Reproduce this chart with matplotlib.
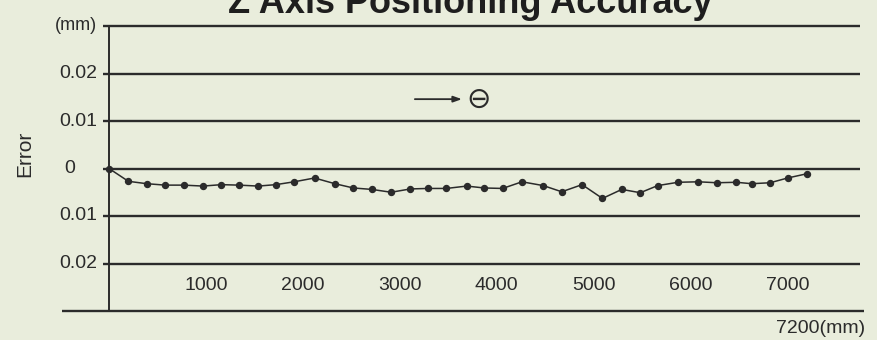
import matplotlib
matplotlib.use("Agg")
import matplotlib.pyplot as plt
from matplotlib import font_manager

# Measured Z-axis positioning error along the travel (mm)
position_mm = [0, 200, 390, 580, 770, 970, 1160, 1340, 1540, 1720,
               1910, 2120, 2330, 2520, 2710, 2910, 3110, 3290, 3480, 3690,
               3870, 4060, 4260, 4480, 4670, 4880, 5090, 5290, 5480, 5660,
               5870, 6080, 6270, 6470, 6630, 6820, 7000, 7200]
error_mm = [0.0, -0.0027, -0.0032, -0.0035, -0.0035, -0.0037, -0.0034, -0.0035,
            -0.0037, -0.0034, -0.0028, -0.0020, -0.0032, -0.0041, -0.0044,
            -0.0050, -0.0043, -0.0042, -0.0042, -0.0037, -0.0041, -0.0042,
            -0.0028, -0.0036, -0.0049, -0.0034, -0.0063, -0.0044, -0.0051,
            -0.0036, -0.0029, -0.0028, -0.0030, -0.0029, -0.0032, -0.0030,
            -0.0020, -0.0011]

y_levels = [0.03, 0.02, 0.01, 0.0, -0.01, -0.02]
y_labels = ["(mm)", "0.02", "0.01", "0", "0.01", "0.02"]
x_ticks = [1000, 2000, 3000, 4000, 5000, 6000, 7000]
x_labels = ["1000", "2000", "3000", "4000", "5000", "6000", "7000"]

title = "Z Axis Positioning Accuracy"
y_title = "Error"
end_label = "7200(mm)"

installed = {f.name for f in font_manager.fontManager.ttflist}
narrow = "Liberation Sans Narrow" if "Liberation Sans Narrow" in installed else "Liberation Sans"

bg = "#e9eddc"
ink = "#2b2b2b"

W, H, DPI = 878, 340, 100
fig = plt.figure(figsize=(W / DPI, H / DPI), dpi=DPI, facecolor=bg)

# Axes frame: x = 0 at pixel 109, 7200 at pixel 807; y spans 0.03 .. -0.03
px_per_mm = (807 - 109) / 7200.0
left_px, right_px = 109, 866
top_px, bottom_px = 26, 311
ax = fig.add_axes([left_px / W, (H - bottom_px) / H,
                   (right_px - left_px) / W, (bottom_px - top_px) / H])
ax.set_facecolor(bg)
ax.set_xlim(0, (right_px - left_px) / px_per_mm)
ax.set_ylim(-0.03, 0.03)
for s in ax.spines.values():
    s.set_visible(False)
ax.set_xticks([])
ax.set_yticks([])

x_stub = -6 / px_per_mm
x_end = (860 - left_px) / px_per_mm

# Horizontal rules with their labels
for yv, lab in zip(y_levels, y_labels):
    ax.plot([x_stub, x_end], [yv, yv], color=ink, lw=1.7, clip_on=False,
            solid_capstyle="butt", zorder=2)
    if lab == "0":
        ax.text((64 - left_px) / px_per_mm, yv, lab, ha="left", va="center",
                fontsize=14, family=narrow, color=ink, clip_on=False)
    else:
        ax.text(-12 / px_per_mm, yv, lab, ha="right", va="center",
                fontsize=14 if lab != "(mm)" else 13,
                family=narrow, color=ink, clip_on=False)

# Bottom rule reaching further left
ax.plot([(62 - left_px) / px_per_mm, (864 - left_px) / px_per_mm], [-0.03, -0.03],
        color=ink, lw=1.7, clip_on=False, solid_capstyle="butt", zorder=2)

# Vertical axis
ax.plot([0, 0], [-0.03, 0.03], color=ink, lw=1.4, clip_on=False, zorder=2)

# X tick labels between the lower rules
for xv, lab in zip(x_ticks, x_labels):
    ax.text(xv, -0.0246, lab, ha="center", va="center", fontsize=14,
            family=narrow, color=ink)

ax.text((865 - left_px) / px_per_mm, -0.0336, end_label, ha="right", va="center",
        fontsize=14, family=narrow, color=ink, clip_on=False)

# Error curve
ax.plot(position_mm, error_mm, color=ink, lw=1.1, marker="o", markersize=4.3,
        markerfacecolor=ink, markeredgecolor=ink, clip_on=False, zorder=3)

# Direction marker
ax.annotate("", xy=(3640, 0.0146), xytext=(3155, 0.0146),
            arrowprops=dict(arrowstyle="-|>,head_length=0.5,head_width=0.18",
                            color=ink, lw=1.3, shrinkA=0, shrinkB=0))
ax.text(3810, 0.0144, "\u2296", ha="center", va="center", fontsize=21,
        family="DejaVu Sans", color=ink)

fig.text(25 / W, 1 - 154 / H, y_title, rotation=90, ha="center", va="center",
         fontsize=15, family=narrow, color=ink)
fig.text(470 / W, 1 - 13 / H, title, ha="center", va="baseline", fontsize=26,
         fontweight="bold", family="Liberation Sans", color="#1e1e1e")

fig.savefig("out.png", dpi=DPI, facecolor=bg)
